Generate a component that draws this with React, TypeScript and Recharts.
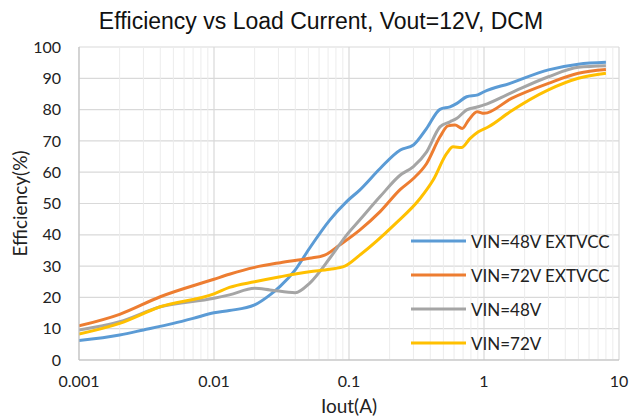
import React from 'react';
import { LineChart, Line, XAxis, YAxis, CartesianGrid, Legend, ReferenceLine } from 'recharts';

// Iout (A) / efficiency (%)
const iout48ext = [0.001, 0.002, 0.003, 0.005, 0.007, 0.01, 0.013, 0.02, 0.026, 0.031, 0.04, 0.051, 0.072, 0.096, 0.12, 0.17, 0.24, 0.3, 0.376, 0.472, 0.56, 0.63, 0.744, 0.9, 1, 1.56, 3, 5, 8];
const eff48ext = [6.2, 8.0, 9.6, 11.7, 13.3, 15.1, 15.8, 17.6, 20.8, 23.6, 28.8, 35.7, 44.7, 50.6, 54.3, 61.2, 67.1, 68.7, 74, 80.1, 80.9, 82, 84.1, 84.7, 85.7, 88.4, 92.7, 94.5, 95.1];

const iout72ext = [0.001, 0.002, 0.004, 0.01, 0.013, 0.02, 0.031, 0.051, 0.066, 0.085, 0.12, 0.17, 0.24, 0.3, 0.376, 0.472, 0.54, 0.61, 0.69, 0.77, 0.89, 1, 1.6, 3, 5, 8];
const eff72ext = [10.9, 14.6, 20.2, 25.8, 27.4, 29.6, 31.1, 32.5, 33.5, 36.7, 41.5, 47.4, 54.5, 58, 62.8, 71.3, 74.8, 75.1, 74, 76.7, 79.3, 78.8, 83.6, 88.4, 91.6, 92.8];

const iout48 = [0.001, 0.002, 0.004, 0.01, 0.013, 0.02, 0.026, 0.04, 0.051, 0.072, 0.096, 0.12, 0.17, 0.24, 0.3, 0.376, 0.472, 0.56, 0.63, 0.744, 0.9, 1, 1.56, 3, 5, 8];
const eff48 = [9.6, 12.2, 17, 19.7, 20.8, 22.9, 22.4, 21.5, 24.5, 32.5, 39.9, 44.7, 52.2, 59.1, 61.8, 66.5, 74.5, 76.1, 77.2, 79.9, 80.9, 81.5, 85.2, 90.5, 93.5, 94];

const iout72 = [0.001, 0.002, 0.004, 0.01, 0.013, 0.02, 0.031, 0.051, 0.072, 0.093, 0.12, 0.22, 0.336, 0.42, 0.53, 0.59, 0.68, 0.79, 0.908, 1.08, 1.56, 3, 5, 8];
const eff72 = [8.3, 11.7, 17, 21.1, 23.2, 25, 26.6, 28.2, 29, 30, 33.5, 43.5, 51.6, 57.5, 66, 68.1, 67.9, 70.8, 72.9, 74.5, 79.3, 86.3, 90, 91.6];

const seriesNames = ['VIN=48V EXTVCC', 'VIN=72V EXTVCC', 'VIN=48V', 'VIN=72V'];
const seriesColors = ['#5b9bd5', '#ed7d31', '#a5a5a5', '#ffc000'];

const xTicks = [0.001, 0.01, 0.1, 1, 10];
const yTicks = [0, 10, 20, 30, 40, 50, 60, 70, 80, 90, 100];
const minorTicks = [2, 3, 4, 5, 6, 7, 8, 9].flatMap((m) => [0.001, 0.01, 0.1, 1].map((d) => +(m * d).toPrecision(3)));

const toPoints = (xs: number[], ys: number[]) => xs.map((x, i) => ({ iout: x, eff: ys[i] }));

const allSeries = [
  toPoints(iout48ext, eff48ext),
  toPoints(iout72ext, eff72ext),
  toPoints(iout48, eff48),
  toPoints(iout72, eff72),
];

const font = 'Lato, "Open Sans", sans-serif';

const LegendBox = () => (
  <div style={{ fontFamily: font, fontSize: 17, color: '#222' }}>
    {seriesNames.map((name, i) => (
      <div key={name} style={{ display: 'flex', alignItems: 'center', height: 34 }}>
        <svg width={55} height={6} style={{ marginRight: 5 }}>
          <line x1={0} y1={3} x2={55} y2={3} stroke={seriesColors[i]} strokeWidth={3} />
        </svg>
        <span>{name}</span>
      </div>
    ))}
  </div>
);

export default function App() {
  return (
    <div style={{ position: 'absolute', left: 0, top: 0, width: 636, height: 417, background: '#fff' }}>
      <div
        style={{
          position: 'absolute', top: 8, left: 0, width: 642, textAlign: 'center',
          fontFamily: '"Liberation Sans", Arial, sans-serif', fontSize: 23, color: '#111',
        }}
      >
        Efficiency vs Load Current, Vout=12V, DCM
      </div>
      <LineChart width={636} height={417} margin={{ top: 47, right: 17, left: 0, bottom: 0 }}>
        {minorTicks.map((v) => (
          <ReferenceLine key={v} x={v} stroke="#ececec" strokeWidth={1} />
        ))}
        <CartesianGrid stroke="#d9d9d9" strokeWidth={1.2} />
        <XAxis
          dataKey="iout"
          type="number"
          scale="log"
          domain={[0.001, 10]}
          ticks={xTicks}
          allowDataOverflow
          height={57}
          axisLine={{ stroke: '#bfbfbf' }}
          tickLine={false}
          tick={{ fill: '#222', fontSize: 16, fontFamily: font }}
          tickMargin={10}
          tickFormatter={(v: number) => String(v)}
          label={{ value: 'Iout(A)', position: 'insideBottom', offset: 4, fill: '#222', fontSize: 19, fontFamily: font }}
        />
        <YAxis
          type="number"
          domain={[0, 100]}
          ticks={yTicks}
          width={79}
          axisLine={{ stroke: '#bfbfbf' }}
          tickLine={false}
          tick={{ fill: '#222', fontSize: 16, fontFamily: font }}
          tickMargin={12}
          label={{ value: 'Efficiency(%)', angle: -90, position: 'insideLeft', offset: 20, fill: '#222', fontSize: 19, fontFamily: font, style: { textAnchor: 'middle' } }}
        />
        {allSeries.map((pts, i) => (
          <Line
            key={seriesNames[i]}
            data={pts}
            dataKey="eff"
            name={seriesNames[i]}
            type="monotone"
            stroke={seriesColors[i]}
            strokeWidth={3}
            dot={false}
            isAnimationActive={false}
          />
        ))}
        <Legend
          layout="horizontal"
          verticalAlign="middle"
          align="center"
          wrapperStyle={{ left: 411, top: 224, width: 210 }}
          content={() => <LegendBox />}
        />
      </LineChart>
    </div>
  );
}
